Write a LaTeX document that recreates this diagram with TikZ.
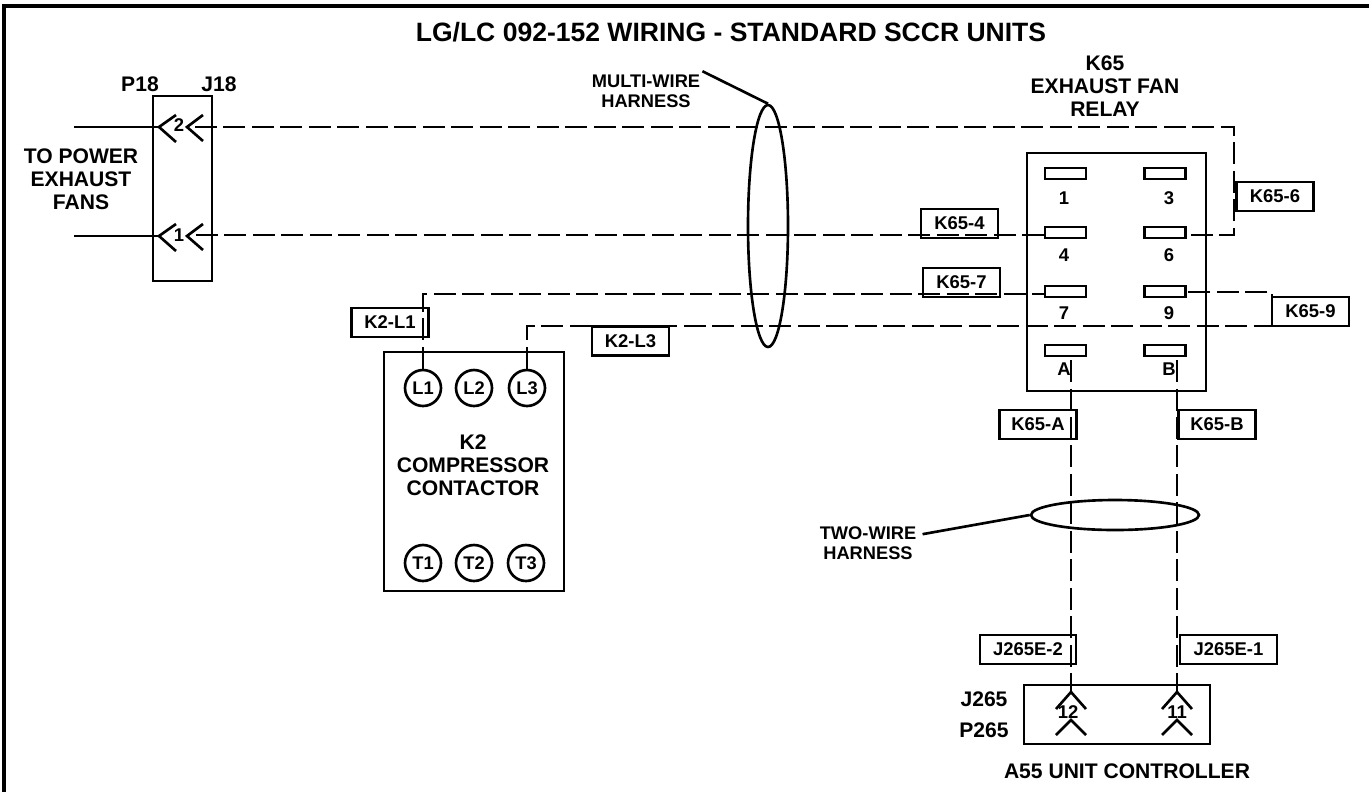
\documentclass[tikz,border=0pt]{standalone}
\usepackage{fontspec}
\setmainfont{Liberation Sans}
\usetikzlibrary{shapes.geometric}
\tikzset{
    wire/.style={line width=1.5pt, dash pattern=on 0.44cm off 0.13cm},
    lead/.style={line width=1.5pt},
    tag/.style={draw, line width=1.5pt, minimum width=1.54cm, minimum height=0.58cm, inner sep=0pt, font=\fontsize{10.5}{12}\bfseries},
    txt/.style={inner sep=0pt, align=center, font=\fontsize{10.5}{12.6}\bfseries},
    big/.style={inner sep=0pt, align=center, font=\fontsize{12}{13.1}\bfseries},
    small/.style={inner sep=0pt, align=center, font=\fontsize{10.4}{11.4}\bfseries},
    blade/.style={draw, line width=1.5pt, minimum width=0.82cm, minimum height=0.22cm, inner sep=0pt},
    term/.style={draw, circle, line width=1.5pt, minimum size=0.72cm, inner sep=0pt, font=\fontsize{10.4}{12}\bfseries},
    harness/.style={draw, ellipse, line width=1.5pt, inner sep=0pt}
}
\begin{document}
\begin{tikzpicture}[x=0.02cm, y=-0.02cm]
    \useasboundingbox (0,0) rectangle (1369,792);
    \draw[line width=2.4pt] (4,792) -- (4,6) -- (1369,6);
    \node[big, font=\fontsize{15.1}{18}\bfseries] (title) at (731,32) {LG/LC 092-152 WIRING - STANDARD SCCR UNITS};

    \begin{scope}
        \node[draw, lead, minimum width=1.18cm, minimum height=3.7cm, inner sep=0pt] (plugbox) at (182.5,188.5) {};
        \node[big] (p18) at (140,84) {P18};
        \node[big] (j18) at (219,84) {J18};
        \node[big] (powerfans) at (81,179) {TO POWER\\EXHAUST\\FANS};
        \node[txt] (pos2) at (179,125) {2};
        \node[txt] (pos1) at (179,235) {1};
        \foreach \y/\n in {127/2, 236/1} {
            \coordinate (plug\n) at (159,\y);
            \coordinate (jack\n) at (187,\y);
            \coordinate (fan\n) at (74,\y);
            \draw[lead] (176,\y-12) -- (plug\n) -- (176,\y+15);
            \draw[lead] (203,\y-12) -- (jack\n) -- (203,\y+14);
            \draw[lead] (fan\n) -- (plug\n);
        }
    \end{scope}

    \begin{scope}
        \node[draw, lead, minimum width=3.58cm, minimum height=4.76cm, inner sep=0pt] (relay) at (1116.5,272) {};
        \node[big] (relayname) at (1105,86) {K65\\EXHAUST FAN\\RELAY};
        \foreach \x/\a/\b/\c/\d in {1065.5/1/4/7/A, 1165/3/6/9/B} {
            \node[blade] (blade\a) at (\x,173.5) {};
            \node[blade] (blade\b) at (\x,232.5) {};
            \node[blade] (blade\c) at (\x,291.5) {};
            \node[blade] (blade\d) at (\x,350.5) {};
        }
        \node[txt] (num1) at (1064,198) {1};
        \node[txt] (num3) at (1169,198) {3};
        \node[txt] (num4) at (1064,255) {4};
        \node[txt] (num6) at (1169,255) {6};
        \node[txt] (num7) at (1064,313) {7};
        \node[txt] (num9) at (1169,313) {9};
        \node[txt] (numA) at (1064,369) {A};
        \node[txt] (numB) at (1169,369) {B};
    \end{scope}

    \begin{scope}
        \node[draw, lead, minimum width=3.6cm, minimum height=4.78cm, inner sep=0pt] (contactor) at (474,471.5) {};
        \node[term] (L1) at (423,388) {L1};
        \node[term] (L2) at (474,388) {L2};
        \node[term] (L3) at (527,388) {L3};
        \node[term] (T1) at (423,563) {T1};
        \node[term] (T2) at (474,563) {T2};
        \node[term] (T3) at (526,563) {T3};
        \node[big] (contactorname) at (473,465) {K2\\COMPRESSOR\\CONTACTOR};
    \end{scope}

    \begin{scope}
        \node[draw, lead, minimum width=3.72cm, minimum height=1.18cm, inner sep=0pt] (controller) at (1117,714.5) {};
        \node[big] (j265) at (984,699) {J265};
        \node[big] (p265) at (984,730) {P265};
        \node[big] (controllername) at (1127,771) {A55 UNIT CONTROLLER};
        \node[txt] (pos12) at (1068,712) {12};
        \node[txt] (pos11) at (1177,712) {11};
        \foreach \x/\n in {1071/12, 1177/11} {
            \coordinate (sock\n) at (\x,692);
            \draw[lead] (\x-15,709) -- (sock\n) -- (\x+15,709);
            \draw[lead] (\x-15,735) -- (\x,720) -- (\x+15,735);
        }
    \end{scope}

    \coordinate (cornerA) at (1234,127);
    \coordinate (cornerB) at (1234,235);
    \coordinate (cornerC) at (423,294);
    \coordinate (cornerD) at (527,326);
    \coordinate (cornerE) at (1272,326);
    \coordinate (cornerF) at (1272,292);
    \coordinate (topA) at (1071,360);
    \coordinate (topB) at (1177,360);
    \draw[wire] (jack2) ++(8,0) -- (cornerA) -- (cornerB) -- (blade6.east |- cornerB);
    \draw[wire] (jack1) ++(9,-1) -- (blade4.west |- cornerB);
    \draw[wire] (L1.north) -- (cornerC) -- (blade7.west |- cornerC);
    \draw[wire] (L3.north) -- (cornerD) -- (cornerE) -- (cornerF) -- (blade9.east |- cornerF);
    \draw[wire] (topA) -- (sock12);
    \draw[wire] (topB) -- (sock11);

    \node[harness, minimum width=0.8cm, minimum height=4.84cm] (bigloop) at (768,226) {};
    \node[harness, minimum width=3.36cm, minimum height=0.6cm] (smallloop) at (1115,515) {};
    \node[small] (multiwire) at (646,91) {MULTI-WIRE\\HARNESS};
    \node[small] (twowire) at (868,543) {TWO-WIRE\\HARNESS};
    \draw[lead] (multiwire.north east) ++(2,-3) -- (bigloop.north);
    \draw[lead] (twowire.north east) ++(6,8) -- (smallloop.west);

    \node[tag] (tag6) at (1275,196.5) {K65-6};
    \node[tag] (tag4) at (959.5,223.5) {K65-4};
    \node[tag] (tag7) at (961.5,282.5) {K65-7};
    \node[tag] (tag9) at (1310.5,311.5) {K65-9};
    \node[tag] (tagA) at (1038,424.5) {K65-A};
    \node[tag] (tagB) at (1217,424.5) {K65-B};
    \node[tag] (tagL1) at (390,322.5) {K2-L1};
    \node[tag] (tagL3) at (630.5,341) {K2-L3};
    \node[tag, minimum width=1.92cm] (tagJ2) at (1028,649.5) {J265E-2};
    \node[tag, minimum width=1.94cm] (tagJ1) at (1228.5,649.5) {J265E-1};
\end{tikzpicture}
\end{document}
